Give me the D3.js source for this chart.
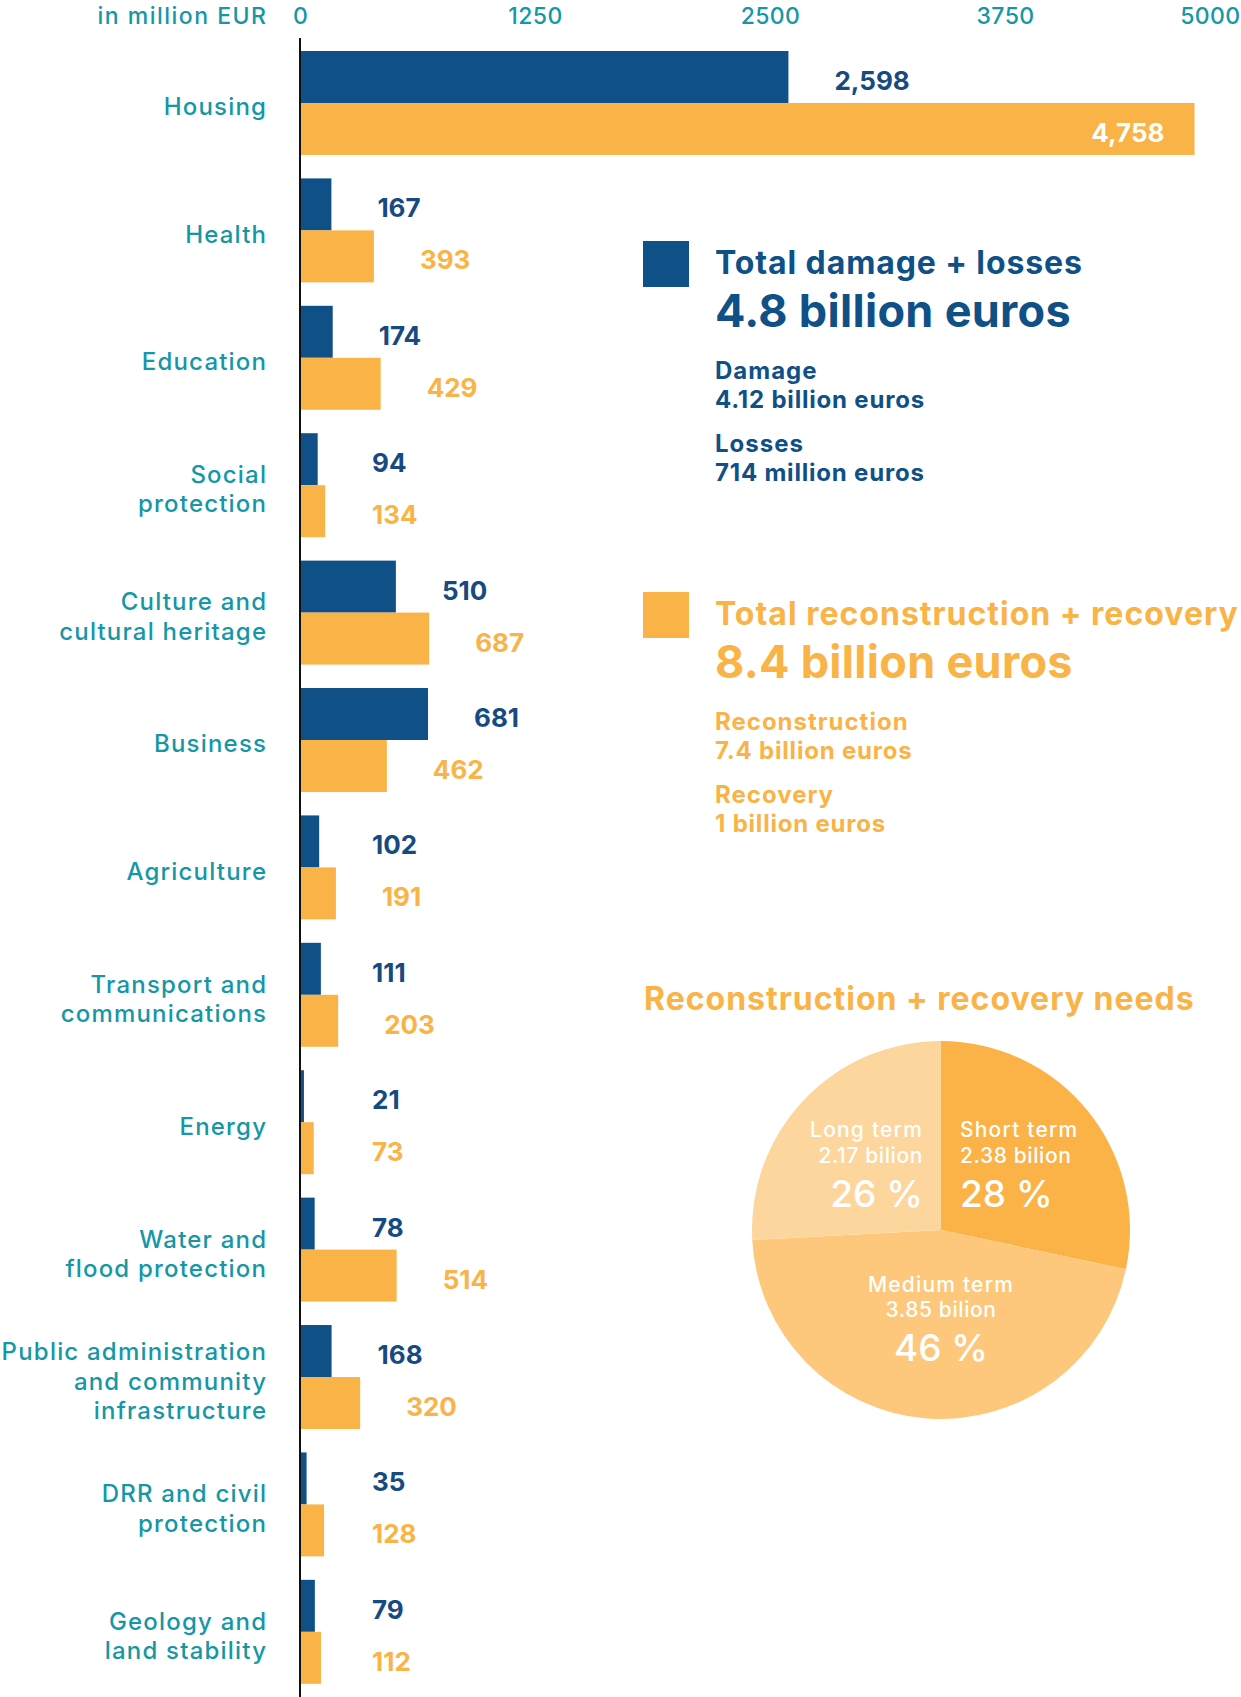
<!DOCTYPE html>
<html>
<head>
<meta charset="utf-8">
<script src="https://cdn.jsdelivr.net/npm/d3@7"></script>
<style>
  html, body { margin: 0; padding: 0; background: #fff; }
  svg { display: block; font-family: Inter, "Open Sans", sans-serif; }
</style>
</head>
<body>
<svg id="chart" width="1241" height="1697"></svg>
<script>
// Sectors and their (wrapped) labels
const categories = [
  "Housing", "Health", "Education", "Social protection",
  "Culture and cultural heritage", "Business", "Agriculture",
  "Transport and communications", "Energy", "Water and flood protection",
  "Public administration and community infrastructure",
  "DRR and civil protection", "Geology and land stability"
];
const categoryLines = [
  ["Housing"], ["Health"], ["Education"], ["Social", "protection"],
  ["Culture and", "cultural heritage"], ["Business"], ["Agriculture"],
  ["Transport and", "communications"], ["Energy"], ["Water and", "flood protection"],
  ["Public administration", "and community", "infrastructure"],
  ["DRR and civil", "protection"], ["Geology and", "land stability"]
];

// Values in million EUR
const damageLosses = [2598, 167, 174, 94, 510, 681, 102, 111, 21, 78, 168, 35, 79];
const reconstructionRecovery = [4758, 393, 429, 134, 687, 462, 191, 203, 73, 514, 320, 128, 112];

const xTicks = [0, 1250, 2500, 3750, 5000];
const axisTitle = "in million EUR";

// Summary blocks
const damageSummary = {
  title: "Total damage + losses", total: "4.8 billion euros",
  parts: [["Damage", "4.12 billion euros"], ["Losses", "714 million euros"]]
};
const reconSummary = {
  title: "Total reconstruction + recovery", total: "8.4 billion euros",
  parts: [["Reconstruction", "7.4 billion euros"], ["Recovery", "1 billion euros"]]
};

// Reconstruction + recovery needs by term (billion EUR)
const pieTitle = "Reconstruction + recovery needs";
const termNames = ["Short term", "Medium term", "Long term"];
const termValues = [2.38, 3.85, 2.17];
const termShares = ["28 %", "46 %", "26 %"];

const BLUE = "#0f5087";
const BLUE_TEXT = "#174a80";
const ORANGE = "#fab346";
const TEAL = "#1597a6";
const pieColors = ["#fbb247", "#fdc87c", "#fdd69e"];

const svg = d3.select("#chart");

// ---- Bar chart ----
const axisX = 300;
const labelRight = 266;
const x = d3.scaleLinear().domain([0, 5000]).range([axisX, 1240]);

const y0 = d3.scaleBand()
  .domain(categories)
  .range([51, 51 + 12 * 127.4 + 104])
  .paddingInner(0.184)
  .paddingOuter(0);

const series = ["damage", "recon"];
const y1 = d3.scaleBand().domain(series).range([0, y0.bandwidth()]).padding(0);

const rows = categories.map((c, i) => ({
  cat: c, lines: categoryLines[i],
  values: [
    { key: "damage", v: damageLosses[i] },
    { key: "recon", v: reconstructionRecovery[i] }
  ]
}));

// top axis with tick labels
const axis = d3.axisTop(x).tickValues(xTicks).tickSize(0).tickPadding(0).tickFormat(d3.format("d"));
const gAxis = svg.append("g").attr("transform", "translate(0,24)").call(axis);
gAxis.select(".domain").remove();
gAxis.selectAll("text")
  .attr("fill", TEAL).attr("font-size", 23).attr("font-weight", 500)
  .attr("letter-spacing", 0.4)
  .attr("dy", 0)
  .attr("font-family", "Inter, sans-serif");
gAxis.selectAll(".tick").filter(d => d === 5000).select("text").attr("text-anchor", "end");

svg.append("text")
  .attr("x", labelRight + 1.5).attr("y", 24)
  .attr("text-anchor", "end")
  .attr("fill", TEAL).attr("font-size", 23).attr("font-weight", 500)
  .attr("letter-spacing", 1.5)
  .text(axisTitle);

const groups = svg.append("g").selectAll("g.row").data(rows).join("g")
  .attr("class", "row")
  .attr("transform", d => `translate(0,${y0(d.cat)})`);

groups.selectAll("rect").data(d => d.values).join("rect")
  .attr("x", x(0))
  .attr("y", d => y1(d.key))
  .attr("width", d => x(d.v) - x(0))
  .attr("height", y1.bandwidth())
  .attr("fill", d => d.key === "damage" ? BLUE : ORANGE);

const fmt = d3.format(",");
groups.selectAll("text.val").data(d => d.values).join("text")
  .attr("class", "val")
  .each(function (d) {
    const t = d3.select(this);
    const outside = Math.max(x(d.v) + 46, 372);
    const inside = outside + 80 > 1241;
    t.attr("x", inside ? x(d.v) - 30 : outside)
      .attr("text-anchor", inside ? "end" : "start")
      .attr("fill", inside ? "#fff" : (d.key === "damage" ? BLUE_TEXT : ORANGE));
  })
  .attr("y", d => y1(d.key) + y1.bandwidth() / 2 + 13)
  .attr("font-size", 26).attr("font-weight", 700)
  .text(d => fmt(d.v));

// category labels, right-aligned, vertically centred on the group
const catSpacing = 1.2;
groups.append("text")
  .attr("text-anchor", "end")
  .attr("fill", TEAL).attr("font-size", 24).attr("font-weight", 500)
  .attr("letter-spacing", catSpacing)
  .each(function (d) {
    const n = d.lines.length, lh = 29.2;
    const mid = y0.bandwidth() / 2 + 12.5;
    d3.select(this).selectAll("tspan").data(d.lines).join("tspan")
      .attr("x", labelRight + catSpacing)
      .attr("y", (l, j) => mid + (j - (n - 1) / 2) * lh)
      .text(l => l);
  });

// vertical axis line
svg.append("line")
  .attr("x1", axisX).attr("x2", axisX)
  .attr("y1", 38).attr("y2", 1697)
  .attr("stroke", "#111").attr("stroke-width", 2);

// ---- Summary blocks ----
function summary(block, color, top, titleSpacing) {
  const g = svg.append("g").attr("fill", color);
  g.append("rect").attr("x", 643).attr("y", top).attr("width", 46).attr("height", 46).attr("fill", color);
  g.append("text").attr("x", 715).attr("y", top + 33)
    .attr("font-size", 32).attr("font-weight", 700).attr("letter-spacing", titleSpacing).text(block.title);
  g.append("text").attr("x", 715).attr("y", top + 86)
    .attr("font-size", 45).attr("font-weight", 700).attr("letter-spacing", 0.3).text(block.total);
  block.parts.forEach((p, i) => {
    const yb = top + 138 + i * 73;
    g.append("text").attr("x", 715).attr("y", yb)
      .attr("font-size", 24).attr("font-weight", 700).attr("letter-spacing", 1.0).text(p[0]);
    g.append("text").attr("x", 715).attr("y", yb + 29)
      .attr("font-size", 24).attr("font-weight", 700).attr("letter-spacing", 0.8).text(p[1]);
  });
}
summary(damageSummary, BLUE, 241, 0.9);
summary(reconSummary, ORANGE, 592, 1.0);

// ---- Pie ----
svg.append("text")
  .attr("x", 644).attr("y", 1010)
  .attr("fill", ORANGE).attr("font-size", 32).attr("font-weight", 700)
  .attr("letter-spacing", 1.0)
  .text(pieTitle);

const cx = 941, cy = 1230, r = 189;
const pie = d3.pie().sort(null).value(d => d.v)(termValues.map((v, i) => ({ v, i })));
const arc = d3.arc().innerRadius(0).outerRadius(r);
const gPie = svg.append("g").attr("transform", `translate(${cx},${cy})`);
gPie.selectAll("path").data(pie).join("path")
  .attr("d", arc)
  .attr("fill", d => pieColors[d.data.i]);

// slice labels: short (right of centre), medium (below), long (left of centre)
const labelSpec = [
  { anchor: "start", dx: 19, dy: [-93, -67, -23] },
  { anchor: "middle", dx: 0, dy: [62, 87, 131] },
  { anchor: "end", dx: -18, dy: [-93, -67, -23] }
];
termNames.forEach((name, i) => {
  const s = labelSpec[i];
  const g = gPie.append("g").attr("fill", "#fff").attr("text-anchor", s.anchor);
  g.append("text").attr("x", s.dx).attr("y", s.dy[0]).attr("font-size", 21).attr("font-weight", 500)
    .attr("letter-spacing", 1.2).text(name);
  g.append("text").attr("x", s.dx).attr("y", s.dy[1]).attr("font-size", 21).attr("font-weight", 500)
    .attr("letter-spacing", 0.6).text(termValues[i].toFixed(2) + " bilion");
  g.append("text").attr("x", s.dx).attr("y", s.dy[2]).attr("font-size", 37).attr("font-weight", 500)
    .text(termShares[i]);
});
</script>
</body>
</html>
